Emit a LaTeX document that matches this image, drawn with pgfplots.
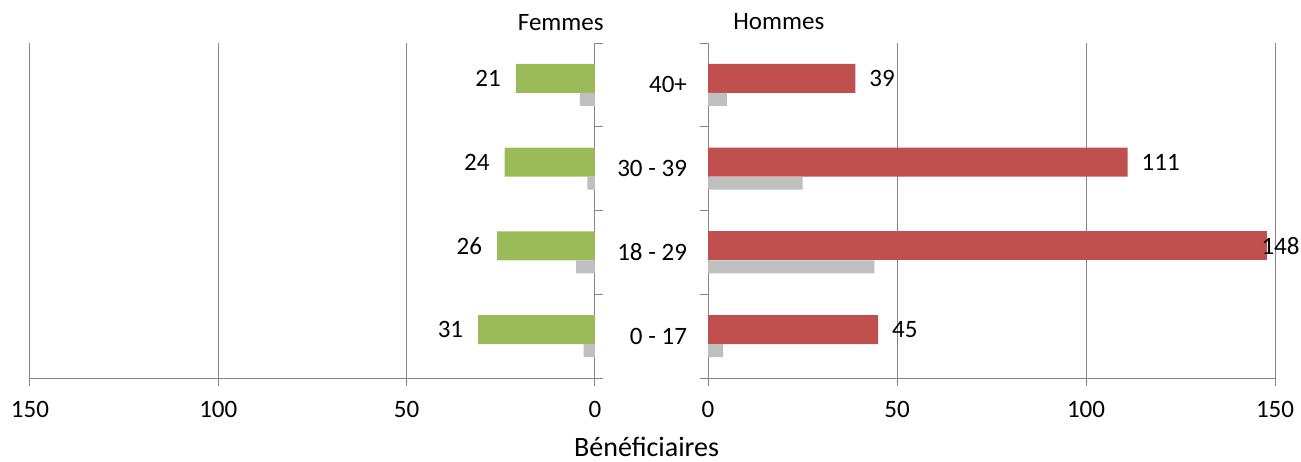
\documentclass[border=0pt]{standalone}
\usepackage{fontspec}
\setmainfont{Carlito}
\usepackage{pgfplots}
\pgfplotsset{compat=1.18}

\definecolor{fgreen}{RGB}{155,187,89}
\definecolor{mred}{RGB}{192,80,77}
\definecolor{lgray}{RGB}{191,191,191}
\definecolor{axgray}{RGB}{134,134,134}

% age groups: 0 = 0-17, 1 = 18-29, 2 = 30-39, 3 = 40+
\pgfplotsset{
  pyr/.style={
    scale only axis, height=167.5pt,
    xbar, xmin=0, xmax=150, ymin=-0.5, ymax=3.5,
    xtick={0,50,100,150},
    ytick={-0.5,0.5,1.5,2.5,3.5}, yticklabels={},
    xmajorgrids, major grid style={axgray, line width=0.5pt},
    axis line style={axgray, line width=0.5pt},
    tick style={axgray, line width=0.5pt},
    tick align=outside, major tick length=4pt,
    /pgf/number format/assume math mode=true,
    xticklabel style={yshift=-4pt},
    axis x line*=bottom,
    title style={inner sep=0pt},
  },
}

\begin{document}
\begin{tikzpicture}[font=\fontsize{12.5}{15}\selectfont]
\useasboundingbox (0,0) rectangle (650.5pt,230.5pt);

% Femmes
\begin{axis}[pyr, at={(15pt,41.5pt)}, anchor=south west, width=282.5pt,
    x dir=reverse, axis y line*=right,
    title=Femmes, title style={anchor=base east, at={(axis description cs:1,1)}, xshift=4.5pt, yshift=0pt}]
  \addplot[fill=fgreen, draw=none, bar width=14.5pt, bar shift=3.25pt,
    nodes near coords, every node near coord/.append style={anchor=east, xshift=-4pt, text=black}]
    coordinates {(31,0) (26,1) (24,2) (21,3)};
  \addplot[fill=lgray, draw=none, bar width=6.5pt, bar shift=-7.25pt]
    coordinates {(3,0) (5,1) (2,2) (4,3)};
\end{axis}

% Hommes
\begin{axis}[pyr, at={(354pt,41.5pt)}, anchor=south west, width=283.5pt,
    axis y line*=left,
    extra y ticks={0,1,2,3},
    extra y tick labels={0 - 17,18 - 29,30 - 39,40+},
    extra y tick style={major tick length=0pt, yticklabel style={xshift=-7pt}},
    title=Hommes, title style={anchor=base west, at={(axis description cs:0,1)}, xshift=12.5pt, yshift=1pt}]
  \addplot[fill=mred, draw=none, bar width=14.5pt, bar shift=3.25pt,
    nodes near coords, every node near coord/.append style={anchor=west, xshift=3.5pt, text=black}]
    coordinates {(45,0) (111,2) (39,3)};
  \addplot[fill=mred, draw=none, bar width=14.5pt, bar shift=3.25pt,
    nodes near coords, every node near coord/.append style={anchor=west, xshift=-6.5pt, text=black}]
    coordinates {(148,1)};
  \addplot[fill=lgray, draw=none, bar width=6.5pt, bar shift=-7.25pt]
    coordinates {(4,0) (44,1) (25,2) (5,3)};
\end{axis}

\node[anchor=base, inner sep=0pt, font=\fontsize{14}{16}\selectfont] at (323.3pt,2.5pt) {Bénéficiaires};
\end{tikzpicture}
\end{document}
